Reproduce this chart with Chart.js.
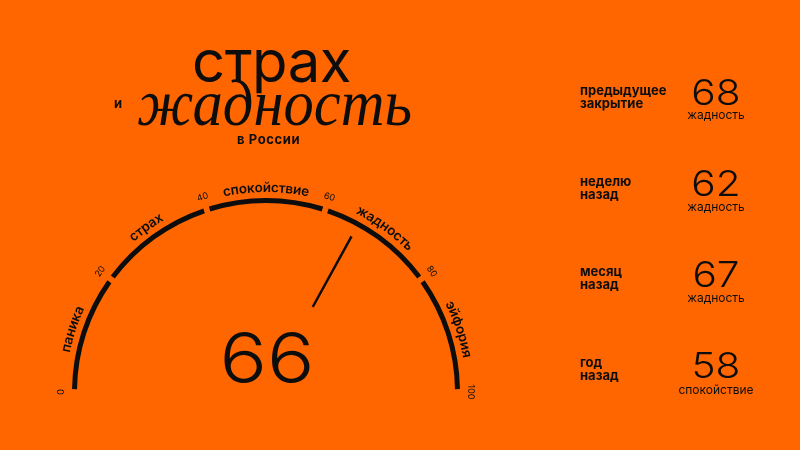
<!DOCTYPE html>
<html lang="ru">
<head>
<meta charset="utf-8">
<title>страх и жадность в России</title>
<script src="https://cdn.jsdelivr.net/npm/chart.js@4.4.1/dist/chart.umd.min.js"></script>
<style>
  html, body { margin: 0; padding: 0; background: #ff6600; }
  body {
    width: 800px; height: 450px; position: relative; overflow: hidden;
    font-family: Inter, 'Noto Sans', sans-serif; color: #0d0d0d;
  }
  #gauge { position: absolute; left: 0; top: 0; }
  .t { position: absolute; white-space: nowrap; line-height: 1; }
  .big { font-size: 58px; font-weight: 400; letter-spacing: -0.5px; left: 192px; top: 32px; }
  .small { font-size: 13px; font-weight: 700; letter-spacing: 0.6px; }
  .serif {
    font-family: 'Liberation Serif', 'DejaVu Serif', serif; font-style: italic;
    font-size: 66px; left: 137px; top: 70px; transform-origin: left top;
  }
  .row-label { position: absolute; left: 580px; font-size: 13px; font-weight: 700; line-height: 13px; }
  .row-num { position: absolute; left: 656px; width: 120px; text-align: center; font-size: 35px; font-weight: 300; line-height: 1; transform: scaleX(1.16); }
  .row-zone { position: absolute; left: 656px; width: 120px; text-align: center; font-size: 12px; font-weight: 400; line-height: 1; }
</style>
</head>
<body>
<canvas id="gauge" width="800" height="450"></canvas>
<div class="t big">страх</div>
<div class="t small" style="left:114px;top:97px">и</div>
<div class="t serif" id="greed">жадность</div>
<div class="t small" style="left:237px;top:133px">в России</div>
<div id="side"></div>

<script>
// gauge zones, 0..100 scale
const zones = ['паника', 'страх', 'спокойствие', 'жадность', 'эйфория'];
const zoneSizes = [20, 20, 20, 20, 20];
const tickLabels = [0, 20, 40, 60, 80, 100];
const currentValue = 66;

// right-hand history panel
const historyLabels = [['предыдущее', 'закрытие'], ['неделю', 'назад'], ['месяц', 'назад'], ['год', 'назад']];
const historyValues = [68, 62, 67, 58];
const historyZones = ['жадность', 'жадность', 'жадность', 'спокойствие'];

const INK = '#0d0d0d';

// stretch the italic word to the width it has in the poster
const greed = document.getElementById('greed');
greed.style.transform = `scaleX(${275 / greed.getBoundingClientRect().width})`;

// side panel rows
const side = document.getElementById('side');
historyValues.forEach((v, i) => {
  const label = document.createElement('div');
  label.className = 'row-label';
  label.style.top = (84 + i * 90.7) + 'px';
  label.innerHTML = historyLabels[i].join('<br>');
  side.appendChild(label);

  const num = document.createElement('div');
  num.className = 'row-num';
  num.style.top = (75 + i * 91) + 'px';
  num.textContent = v;
  side.appendChild(num);

  const zone = document.createElement('div');
  zone.className = 'row-zone';
  zone.style.top = (109 + i * 91.5) + 'px';
  zone.textContent = historyZones[i];
  side.appendChild(zone);
});

/**
 * Write text along a circle, letters standing outward
 */
function arcText(ctx, text, cx, cy, r, mid) {
  const total = ctx.measureText(text).width;
  let a = mid - total / r / 2;
  for (const ch of text) {
    const w = ctx.measureText(ch).width;
    const ca = a + w / r / 2;
    ctx.save();
    ctx.translate(cx + Math.cos(ca) * r, cy + Math.sin(ca) * r);
    ctx.rotate(ca + Math.PI / 2);
    ctx.fillText(ch, 0, 0);
    ctx.restore();
    a += w / r;
  }
}

const gaugeDecor = {
  id: 'gaugeDecor',
  afterDatasetsDraw(chart) {
    const { ctx } = chart;
    const arcs = chart.getDatasetMeta(0).data;
    const first = arcs[0];
    const cx = first.x, cy = first.y;
    // arcs with spacing are drawn pushed out by half the spacing
    const R = first.outerRadius + (first.options.spacing || 0) / 2;
    const a0 = first.startAngle;
    const a1 = arcs[arcs.length - 1].endAngle;
    const lo = tickLabels[0], hi = tickLabels[tickLabels.length - 1];
    const angleOf = v => a0 + (v - lo) / (hi - lo) * (a1 - a0);

    ctx.save();
    ctx.fillStyle = INK;
    ctx.textAlign = 'center';
    ctx.textBaseline = 'middle';

    // zone names
    ctx.font = '600 13.5px Inter, sans-serif';
    let acc = lo;
    zones.forEach((name, i) => {
      const mid = acc + zoneSizes[i] / 2;
      arcText(ctx, name, cx, cy, R + 10, angleOf(mid));
      acc += zoneSizes[i];
    });

    // boundary ticks
    ctx.font = '400 9px Inter, sans-serif';
    tickLabels.forEach(t => arcText(ctx, String(t), cx, cy, R + 11, angleOf(t)));

    // needle
    const na = angleOf(currentValue);
    ctx.strokeStyle = INK;
    ctx.lineWidth = 2.5;
    ctx.beginPath();
    ctx.moveTo(cx + Math.cos(na) * R * 0.5, cy + Math.sin(na) * R * 0.5);
    ctx.lineTo(cx + Math.cos(na) * R * 0.915, cy + Math.sin(na) * R * 0.915);
    ctx.stroke();

    // current reading, a touch wider like the poster's grotesk
    ctx.font = '300 70px Inter, sans-serif';
    ctx.textBaseline = 'alphabetic';
    ctx.translate(cx + 1, cy - 9);
    ctx.scale(1.13, 1);
    ctx.fillText(String(currentValue), 0, 0);
    ctx.restore();
  }
};

new Chart(document.getElementById('gauge'), {
  type: 'doughnut',
  data: {
    labels: zones,
    datasets: [{
      data: zoneSizes,
      backgroundColor: INK,
      borderWidth: 0,
      spacing: 18,
    }],
  },
  options: {
    responsive: false,
    animation: false,
    rotation: -90,
    circumference: 180,
    radius: 185,
    cutout: '97.3%',
    layout: { padding: { left: 72, right: 340, top: 197, bottom: 48 } },
    plugins: {
      legend: { display: false },
      tooltip: { enabled: false },
    },
    events: [],
  },
  plugins: [gaugeDecor],
});
</script>
</body>
</html>
